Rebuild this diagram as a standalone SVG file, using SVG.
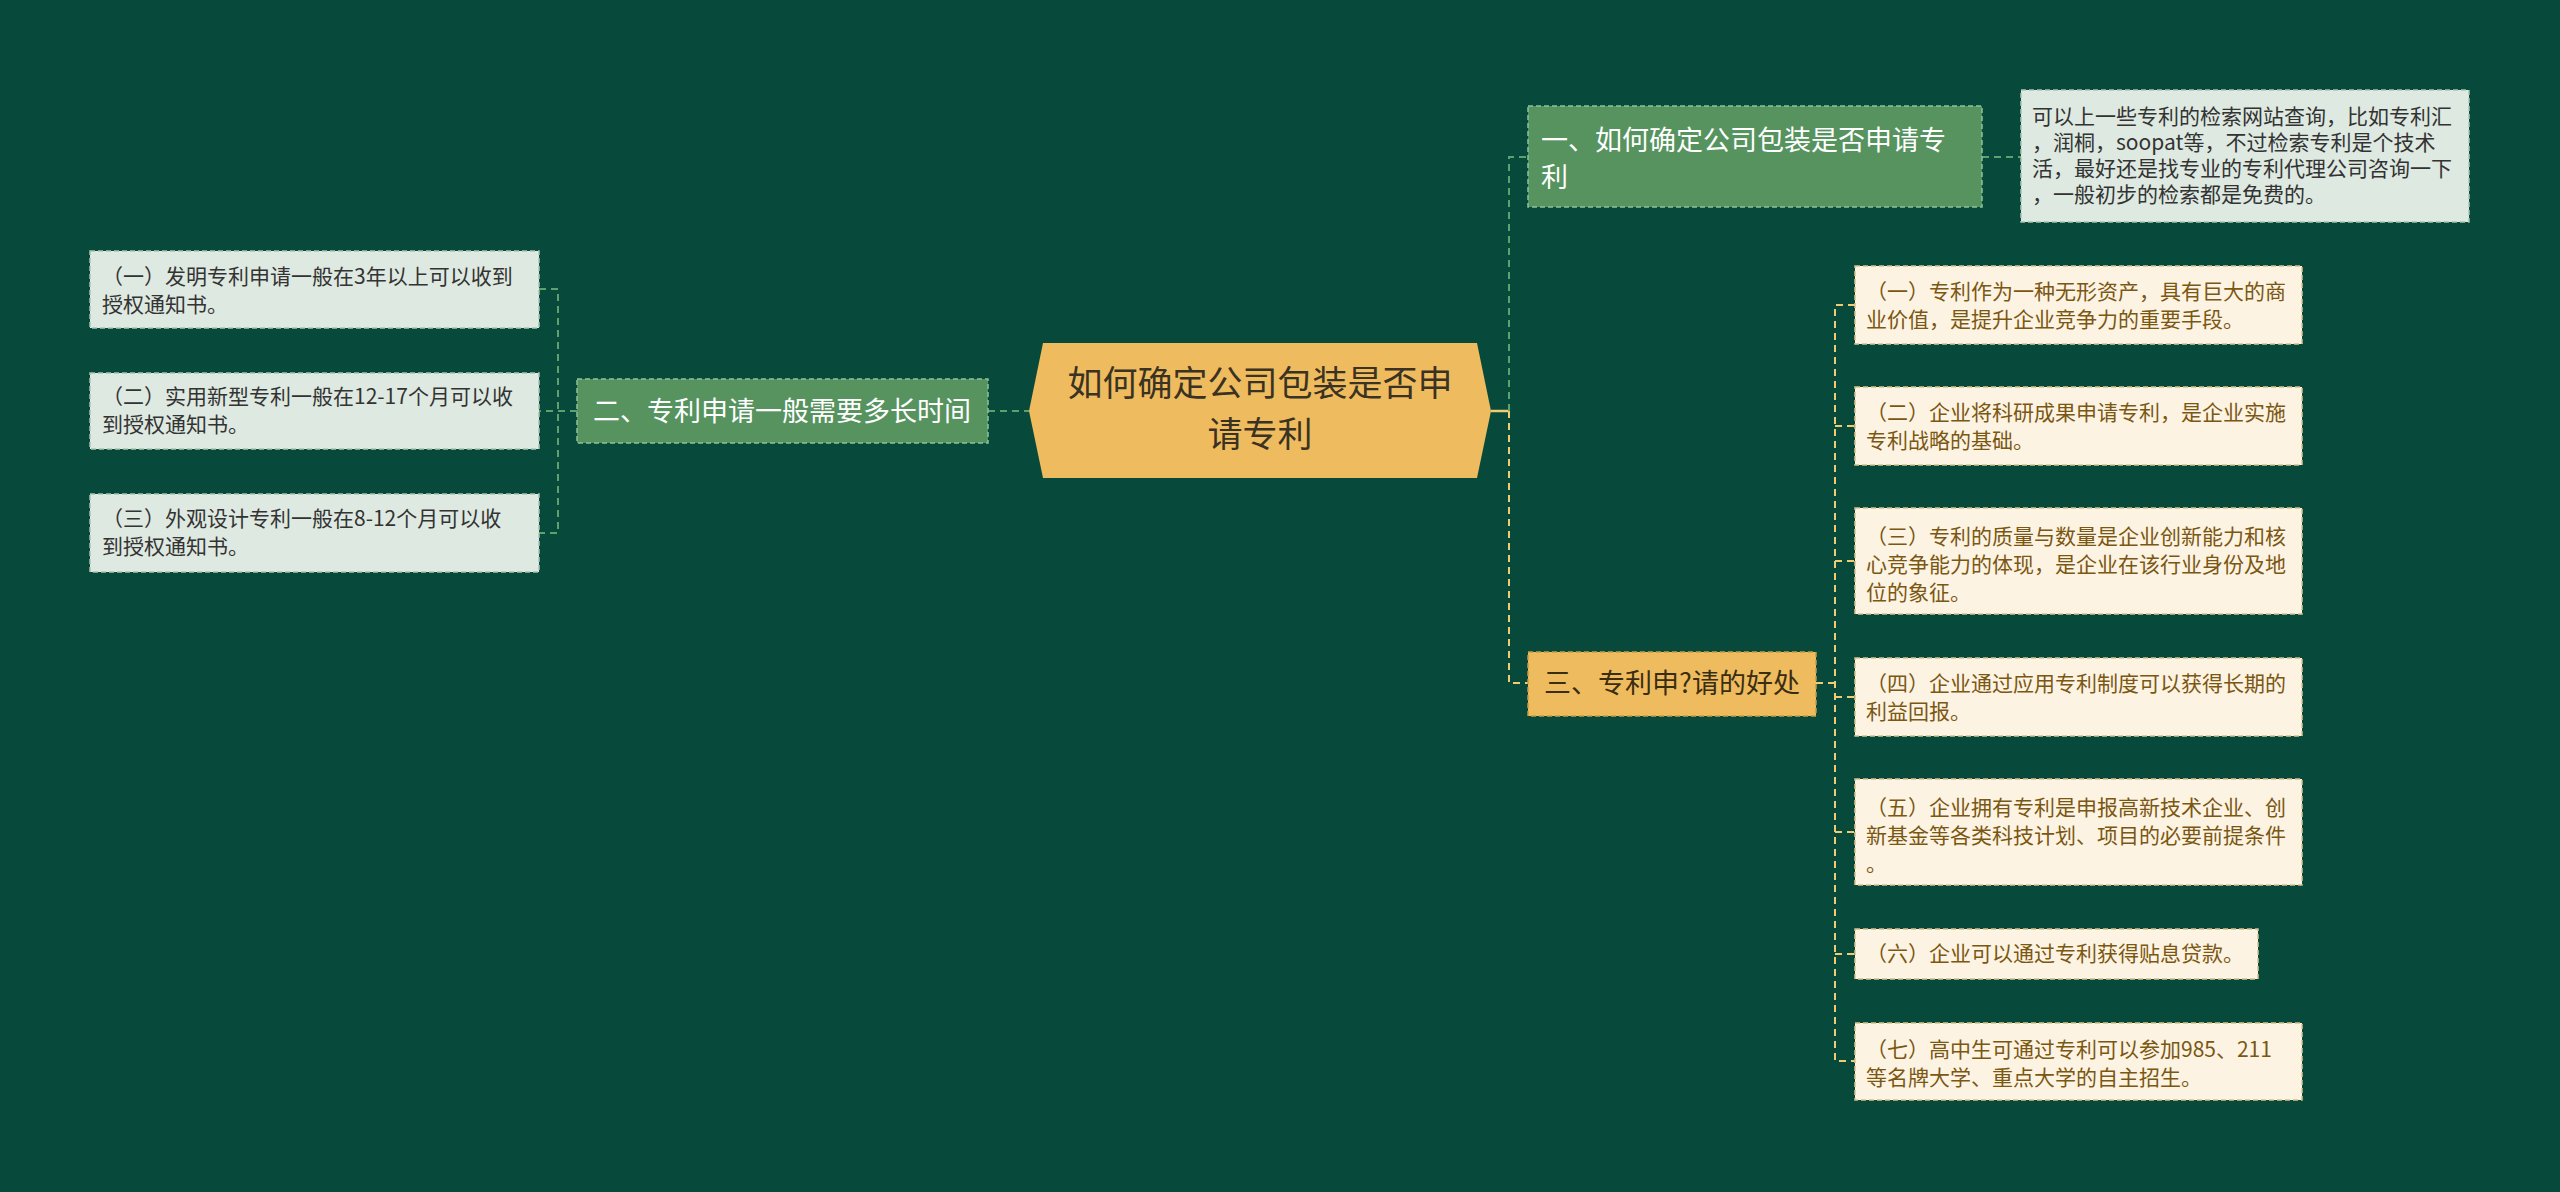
<svg xmlns="http://www.w3.org/2000/svg" width="2560" height="1192" viewBox="0 0 2560 1192">
<style>
text{font-family:"Noto Sans CJK SC","Noto Sans",sans-serif}
.lf{fill:#DEE9E1;stroke:#A9C4B0;stroke-width:1.5;stroke-dasharray:5,3}
.rf{fill:#FDF3E3;stroke:#D9C08A;stroke-width:1.5;stroke-dasharray:5,3}
.gn{fill:#56935F;stroke:#8CC29A;stroke-width:1.5;stroke-dasharray:5,3}
.yn{fill:#EFBB5F;stroke:#C99A40;stroke-width:1.5;stroke-dasharray:5,3}
.lt{font-size:21px;fill:#333333}
.rt{font-size:21px;fill:#7A5712}
.wt{font-size:27px;fill:#FFFFFF}
.gc{fill:none;stroke:#5FA06C;stroke-width:2;stroke-dasharray:7,5}
.yc{fill:none;stroke:#EFCB74;stroke-width:2;stroke-dasharray:7,5}
</style>
<rect width="2560" height="1192" fill="#07493A"/>
<g id="connectors">
<path class="gc" d="M988 411 H1029"/>
<path class="gc" d="M577 411 H539 M539 289 H558 V533 H539"/>
<path d="M1491 411 H1509" fill="none" stroke="#EFCB74" stroke-width="2.5"/>
<path class="gc" d="M1509 411 V157 H1528"/>
<path class="gc" d="M1982 157 H2021"/>
<path class="yc" d="M1509 411 V683 H1528"/>
<path class="yc" d="M1816 683 H1835 M1855 305 H1835 V1061 H1855 M1835 426 H1855 M1835 561 H1855 M1835 697 H1855 M1835 832 H1855 M1835 954 H1855"/>
</g>
<g id="root">
<polygon points="1029,411 1043,343 1477,343 1491,411 1477,478 1043,478" fill="#EFBB5F"/>
<text x="1260" y="396" text-anchor="middle" font-size="35" fill="#3A3222">如何确定公司包装是否申</text>
<text x="1260" y="447" text-anchor="middle" font-size="35" fill="#3A3222">请专利</text>
</g>
<g id="n2">
<rect class="gn" x="577" y="379" width="411" height="64"/>
<text class="wt" x="782" y="421" text-anchor="middle">二、专利申请一般需要多长时间</text>
</g>
<g id="n2-1">
<rect class="lf" x="90" y="251" width="449" height="77"/>
<text class="lt" x="102" y="284">（一）发明专利申请一般在3年以上可以收到</text>
<text class="lt" x="102" y="312">授权通知书。</text>
</g>
<g id="n2-2">
<rect class="lf" x="90" y="373" width="449" height="76"/>
<text class="lt" x="102" y="404">（二）实用新型专利一般在12-17个月可以收</text>
<text class="lt" x="102" y="432">到授权通知书。</text>
</g>
<g id="n2-3">
<rect class="lf" x="90" y="494" width="449" height="78"/>
<text class="lt" x="102" y="526">（三）外观设计专利一般在8-12个月可以收</text>
<text class="lt" x="102" y="554">到授权通知书。</text>
</g>
<g id="n1">
<rect class="gn" x="1528" y="106" width="454" height="101"/>
<text class="wt" x="1541" y="150">一、如何确定公司包装是否申请专</text>
<text class="wt" x="1541" y="187">利</text>
</g>
<g id="n1-1">
<rect class="lf" x="2021" y="90" width="448" height="132"/>
<text class="lt" x="2032" y="124">可以上一些专利的检索网站查询，比如专利汇</text>
<text class="lt" x="2032" y="150">，润桐，soopat等，不过检索专利是个技术</text>
<text class="lt" x="2032" y="176">活，最好还是找专业的专利代理公司咨询一下</text>
<text class="lt" x="2032" y="202">，一般初步的检索都是免费的。</text>
</g>
<g id="n3">
<rect class="yn" x="1528" y="652" width="288" height="64"/>
<text x="1672" y="693" text-anchor="middle" font-size="27" fill="#3A2E12">三、专利申?请的好处</text>
</g>
<g id="n3-1">
<rect class="rf" x="1855" y="266" width="447" height="78"/>
<text class="rt" x="1866" y="299">（一）专利作为一种无形资产，具有巨大的商</text>
<text class="rt" x="1866" y="327">业价值，是提升企业竞争力的重要手段。</text>
</g>
<g id="n3-2">
<rect class="rf" x="1855" y="387" width="447" height="78"/>
<text class="rt" x="1866" y="420">（二）企业将科研成果申请专利，是企业实施</text>
<text class="rt" x="1866" y="448">专利战略的基础。</text>
</g>
<g id="n3-3">
<rect class="rf" x="1855" y="508" width="447" height="106"/>
<text class="rt" x="1866" y="544">（三）专利的质量与数量是企业创新能力和核</text>
<text class="rt" x="1866" y="572">心竞争能力的体现，是企业在该行业身份及地</text>
<text class="rt" x="1866" y="600">位的象征。</text>
</g>
<g id="n3-4">
<rect class="rf" x="1855" y="658" width="447" height="78"/>
<text class="rt" x="1866" y="691">（四）企业通过应用专利制度可以获得长期的</text>
<text class="rt" x="1866" y="719">利益回报。</text>
</g>
<g id="n3-5">
<rect class="rf" x="1855" y="779" width="447" height="106"/>
<text class="rt" x="1866" y="815">（五）企业拥有专利是申报高新技术企业、创</text>
<text class="rt" x="1866" y="843">新基金等各类科技计划、项目的必要前提条件</text>
<text class="rt" x="1866" y="871">。</text>
</g>
<g id="n3-6">
<rect class="rf" x="1855" y="929" width="403" height="50"/>
<text class="rt" x="1866" y="961">（六）企业可以通过专利获得贴息贷款。</text>
</g>
<g id="n3-7">
<rect class="rf" x="1855" y="1023" width="447" height="77"/>
<text class="rt" x="1866" y="1057">（七）高中生可通过专利可以参加985、211</text>
<text class="rt" x="1866" y="1085">等名牌大学、重点大学的自主招生。</text>
</g>
</svg>
